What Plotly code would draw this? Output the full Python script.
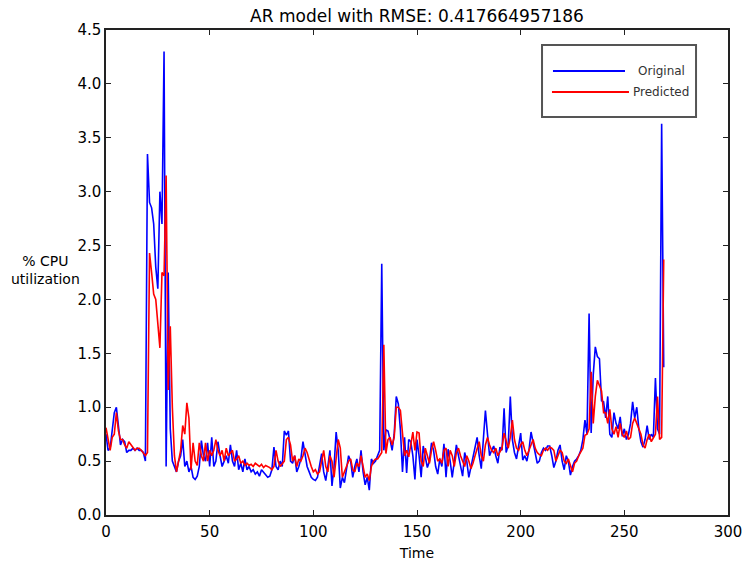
import plotly.graph_objects as go

title_text = "AR model with RMSE: 0.417664957186"

original = [
    0.75, 0.6, 0.62, 0.8, 0.95, 1.0, 0.85, 0.65, 0.7, 0.68, 0.58, 0.6, 0.6, 0.62, 0.6, 0.62, 0.6, 0.6, 0.58, 0.5,
    3.35, 2.9, 2.85, 2.7, 2.3, 2.1, 3.0, 2.7, 4.3, 0.45, 2.25, 0.8, 0.5, 0.45, 0.4, 0.5,
    0.55, 0.7, 0.45, 0.5, 0.4, 0.45, 0.35, 0.33, 0.36, 0.45, 0.69, 0.55, 0.5, 0.67, 0.45,
    0.72, 0.45, 0.5, 0.68, 0.55, 0.45, 0.5, 0.55, 0.48, 0.65, 0.5, 0.45, 0.6, 0.42, 0.48, 0.4, 0.52, 0.42, 0.45, 0.4,
    0.42, 0.38, 0.4, 0.36, 0.42, 0.4, 0.38, 0.35, 0.36, 0.42, 0.63, 0.45, 0.42,
    0.5, 0.45, 0.78, 0.74, 0.78, 0.5, 0.48, 0.55, 0.4, 0.45, 0.52, 0.68, 0.55, 0.45, 0.4, 0.35, 0.33,
    0.32, 0.35, 0.45, 0.57, 0.4, 0.32, 0.45, 0.6, 0.27, 0.45, 0.77, 0.6, 0.25, 0.35, 0.3, 0.42, 0.55, 0.5, 0.35, 0.45,
    0.52, 0.4, 0.6, 0.4, 0.28, 0.35, 0.23, 0.52, 0.48, 0.5, 0.55, 0.6,
    2.33,
    0.6, 0.79, 0.78, 0.7, 0.6, 0.75, 1.1, 1.03, 0.79, 0.4, 0.72, 0.39, 0.7, 0.68, 0.55, 0.33,
    0.7, 0.55, 0.35, 0.64, 0.55, 0.44, 0.5, 0.67, 0.6, 0.45, 0.38, 0.52, 0.45, 0.66, 0.35, 0.61, 0.5, 0.35, 0.5, 0.65,
    0.55, 0.45, 0.36, 0.58, 0.5, 0.35, 0.45, 0.55, 0.62, 0.72, 0.55, 0.43, 0.7, 0.97, 0.75, 0.55, 0.6, 0.64, 0.55, 0.48,
    0.63, 0.6, 0.99, 0.58, 0.65, 1.1, 0.7, 0.58, 0.52, 0.65,
    0.76, 0.51, 0.55, 0.5, 0.6, 0.77, 0.68, 0.6, 0.48, 0.5, 0.58, 0.62, 0.6, 0.64, 0.64, 0.55, 0.44, 0.5, 0.6, 0.65,
    0.5, 0.42, 0.55, 0.5, 0.37, 0.45, 0.5, 0.52, 0.55, 0.6, 0.7,
    0.88, 0.75, 1.87, 0.76, 1.3, 1.56, 1.47, 1.45, 1.06, 1.05, 0.9, 1.1, 0.75, 0.72, 0.95, 0.85, 0.8,
    0.91, 0.73, 0.8, 0.7, 0.75, 0.85, 1.05, 0.9, 1.0, 0.8, 0.68, 0.63, 0.7, 0.83, 0.7, 0.75, 0.72, 1.27, 0.8, 0.75,
    3.63, 1.37,
]

predicted = [
    0.81, 0.72, 0.6, 0.72, 0.75, 0.95, 0.78, 0.7, 0.7, 0.65, 0.62, 0.68, 0.65, 0.62, 0.6, 0.62, 0.62, 0.6, 0.58, 0.55,
    0.58, 2.43, 2.25, 2.05, 2.0, 1.75, 1.55, 2.25, 2.22, 3.15, 1.16, 1.75, 1.0, 0.55, 0.4, 0.5,
    0.6, 0.83, 0.75, 1.04, 0.9, 0.42, 0.67, 0.5, 0.46, 0.67, 0.55, 0.5, 0.67, 0.5, 0.6,
    0.55, 0.6, 0.7, 0.6, 0.55, 0.6, 0.5, 0.62, 0.55, 0.58, 0.6, 0.5, 0.52, 0.55, 0.48, 0.5, 0.46, 0.48, 0.46, 0.47,
    0.45, 0.48, 0.46, 0.45, 0.47, 0.44, 0.46, 0.45, 0.44, 0.42, 0.45, 0.6, 0.5,
    0.45, 0.47, 0.5, 0.7, 0.72, 0.65, 0.5, 0.55, 0.45, 0.52, 0.5, 0.55, 0.62, 0.58, 0.5, 0.45, 0.4,
    0.42, 0.38, 0.4, 0.5, 0.6, 0.45, 0.4, 0.55, 0.5, 0.35, 0.5, 0.7, 0.62, 0.35, 0.4, 0.45, 0.5, 0.52, 0.42, 0.4,
    0.48, 0.45, 0.55, 0.45, 0.35, 0.38, 0.32, 0.45, 0.5, 0.52, 0.52, 0.55,
    0.58, 1.58, 0.57, 0.7, 0.72, 0.65, 0.72, 1.0, 1.0, 0.97, 0.75, 0.55, 0.6, 0.54, 0.65, 0.77, 0.6,
    0.77, 0.76, 0.5, 0.45, 0.62, 0.55, 0.48, 0.6, 0.68, 0.6, 0.5, 0.52, 0.48, 0.6, 0.62, 0.45, 0.6, 0.55, 0.45, 0.58,
    0.62, 0.55, 0.5, 0.45, 0.55, 0.5, 0.43, 0.48, 0.55, 0.62, 0.68, 0.55, 0.5, 0.65, 0.72, 0.65, 0.6, 0.58, 0.62, 0.55,
    0.58, 0.62, 0.76, 0.7, 0.62, 0.72, 0.88, 0.7, 0.62, 0.6,
    0.65, 0.68, 0.6, 0.55, 0.6, 0.66, 0.7, 0.62, 0.58, 0.56, 0.55, 0.6, 0.62, 0.6, 0.63, 0.62, 0.6, 0.5, 0.55, 0.6,
    0.58, 0.5, 0.48, 0.52, 0.46, 0.4, 0.48, 0.5, 0.55, 0.58, 0.62,
    0.74, 0.75, 0.8, 1.33, 0.85, 1.1, 1.25, 1.2, 1.15, 0.95, 0.95, 0.85, 0.98, 0.8, 0.75, 0.82, 0.72,
    0.85, 0.75, 0.72, 0.78, 0.7, 0.72, 0.85, 0.9, 0.85, 0.8, 0.75, 0.65, 0.62, 0.7, 0.75, 0.68, 0.72, 0.75, 1.1, 0.7,
    0.72, 2.37,
]

series_names = ["Original", "Predicted"]
series_colors = ["#0000ff", "#ff0000"]

time_orig = list(range(len(original)))
time_pred = list(range(len(predicted)))

x_ticks = [0, 50, 100, 150, 200, 250, 300]
y_ticks = [0.0, 0.5, 1.0, 1.5, 2.0, 2.5, 3.0, 3.5, 4.0, 4.5]
y_tick_labels = ["0.0", "0.5", "1.0", "1.5", "2.0", "2.5", "3.0", "3.5", "4.0", "4.5"]

font_family = "DejaVu Sans"

fig = go.Figure()
fig.add_trace(go.Scatter(x=time_orig, y=original, mode="lines", name=series_names[0],
                         line=dict(color=series_colors[0], width=1.6), showlegend=False))
fig.add_trace(go.Scatter(x=time_pred, y=predicted, mode="lines", name=series_names[1],
                         line=dict(color=series_colors[1], width=1.6), showlegend=False))

axis_common = dict(showgrid=False, zeroline=False, showline=True, linecolor="#222222",
                   linewidth=1.5, ticks="inside", ticklen=5, tickcolor="#222222",
                   mirror="allticks", automargin=False,
                   tickfont=dict(family=font_family, size=15, color="black"))

fig.update_layout(
    width=746, height=565,
    margin=dict(l=106, r=18, t=30, b=50),
    paper_bgcolor="white", plot_bgcolor="white",
    font=dict(family=font_family, color="black"),
    title=dict(text=title_text, x=0.559, xanchor="center", y=1 - 16 / 565, yanchor="middle",
               font=dict(family=font_family, size=17, color="black")),
    xaxis=dict(range=[0, 300], tickvals=x_ticks, ticktext=[str(v) for v in x_ticks],
               ticklabelstandoff=2,
               title=dict(text="Time", font=dict(family=font_family, size=14), standoff=8),
               **axis_common),
    yaxis=dict(range=[0, 4.5], tickvals=y_ticks, ticktext=y_tick_labels, **axis_common),
    showlegend=False,
)

# legend box drawn in the style of the original (paper coordinates of the plot area)
fig.add_shape(type="rect", xref="paper", yref="paper", x0=0.701, x1=0.9486, y0=0.8206, y1=0.969,
              line=dict(color="#555555", width=2), fillcolor="white", layer="above")
legend_rows = [(0.9155, 0.7186, 0.8344), (0.8722, 0.7170, 0.8408)]
for (ly, lx0, lx1), name, color in zip(legend_rows, series_names, series_colors):
    fig.add_shape(type="line", xref="paper", yref="paper", x0=lx0, x1=lx1, y0=ly, y1=ly,
                  line=dict(color=color, width=2), layer="above")
    fig.add_annotation(text=name, xref="paper", yref="paper", x=0.8923, y=ly,
                       xanchor="center", yanchor="middle", showarrow=False,
                       font=dict(family=font_family, size=12, color="#333333"))

fig.add_annotation(text="% CPU<br>utilization", xref="paper", yref="paper",
                   x=-0.098, y=0.506, xanchor="center", yanchor="middle", showarrow=False,
                   font=dict(family=font_family, size=14, color="black"), align="center")

fig.write_html("out.html")
